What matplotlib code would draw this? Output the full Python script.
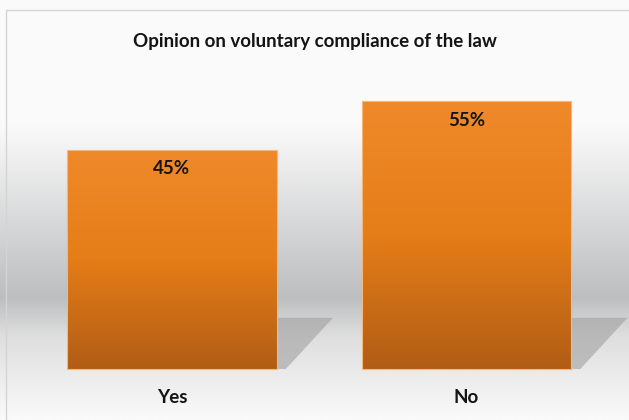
import numpy as np
import matplotlib.pyplot as plt
from matplotlib.colors import LinearSegmentedColormap
from matplotlib.patches import Polygon, Rectangle

title = 'Opinion on voluntary compliance of the law'
categories = ['Yes', 'No']
values = [45, 55]
labels = ['45%', '55%']

plt.rcParams['font.family'] = ['Lato', 'DejaVu Sans']

fig = plt.figure(figsize=(6.29, 4.2), dpi=100)
ax = fig.add_axes([0, 0, 1, 1])
ax.set_axis_off()

# pixel geometry of the original: 294.5 px per category, 4.87 px per percent
px_x, px_y = 294.5, 4.87
x0, x1 = -172 / px_x, (629 - 172) / px_x
y0, y1 = -(420 - 369) / px_y, 369 / px_y
ax.set_xlim(x0, x1)
ax.set_ylim(y0, y1)

# backdrop: white wall fading to grey, floor fading back to white
bg = LinearSegmentedColormap.from_list('bg', [(0, '#fbfbfb'), (0.3, '#fafafa'),
                                              (0.66, '#c4c5c7'), (0.71, '#bdbec0'),
                                              (0.8, '#dedede'), (1, '#fafafa')])
grad = np.linspace(0, 1, 256).reshape(-1, 1)
ax.imshow(grad, cmap=bg, aspect='auto', extent=(x0, x1, y0, y1), origin='upper', zorder=0)
ax.add_patch(Rectangle((x0 + 6 / px_x, y0 - 5), x1 - x0, y1 - y0 - 10 / px_y + 5,
                       fill=False, ec='#d4d4d4', lw=1, zorder=1))

orange = LinearSegmentedColormap.from_list('bar', ['#f0892a', '#e57d18', '#b15d15'])
width = 0.713
for i, v in enumerate(values):
    left, right = i - width / 2, i + width / 2
    # soft slanted shadow to the right of the bar
    sh = Polygon([(right, 0), (right, 10.5), (right + 0.19, 10.5), (right + 0.03, 0)],
                 closed=True, fc='#a0a0a0', ec='none', alpha=0.6, zorder=2)
    ax.add_patch(sh)
    bar = ax.bar(i, v, width=width, color='none', edgecolor='#f6b77a', lw=0.8, zorder=3)[0]
    img = ax.imshow(np.linspace(0, 1, 256).reshape(-1, 1), cmap=orange, aspect='auto',
                    extent=(left, right, 0, v), origin='upper', zorder=2.5)
    img.set_clip_path(bar)
    ax.text(i, v - 3.9, labels[i], ha='center', va='center', fontsize=13.5,
            fontweight='bold', color='#141414', zorder=4)
    ax.text(i, -5.75, categories[i], ha='center', va='center', fontsize=13.5,
            fontweight='bold', color='#141414', zorder=4)

ax.text(0.5, 1 - 42 / 420, title, transform=ax.transAxes, ha='center', va='center',
        fontsize=13.5, fontweight='bold', color='#141414', zorder=4)

ax.set_xlim(x0, x1)
ax.set_ylim(y0, y1)
fig.savefig('out.png', dpi=100)
